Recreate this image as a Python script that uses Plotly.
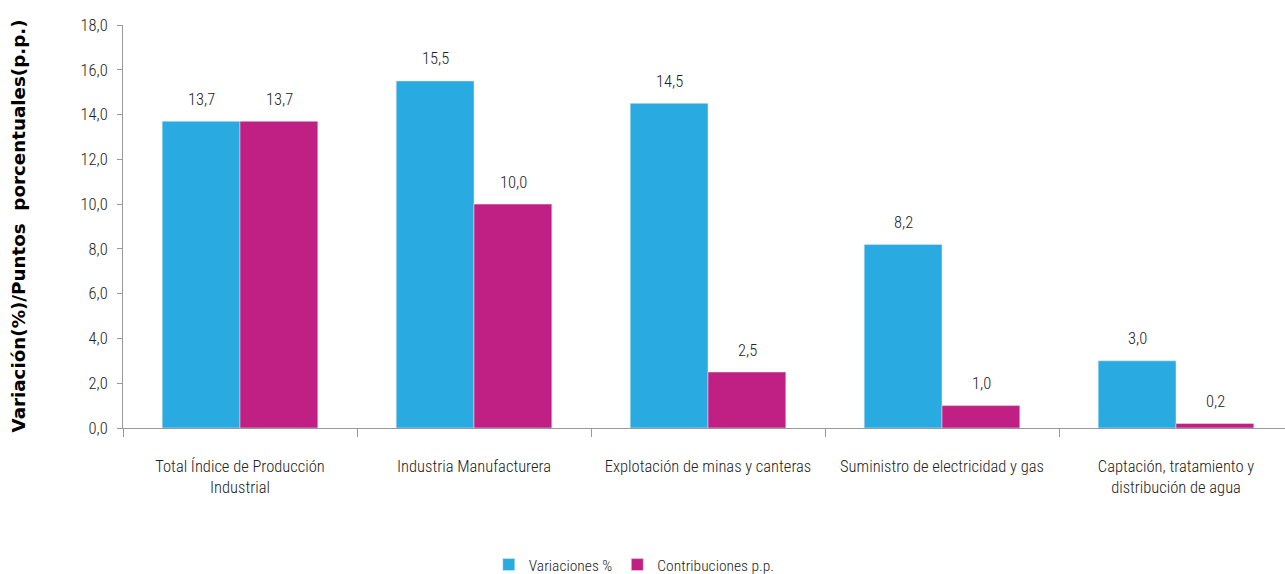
import plotly.graph_objects as go

categories = ["Total Índice de Producción<br>Industrial", "Industria Manufacturera",
              "Explotación de minas y canteras", "Suministro de electricidad y gas",
              "Captación, tratamiento y<br>distribución de agua"]
variaciones = [13.7, 15.5, 14.5, 8.2, 3.0]
contribuciones = [13.7, 10.0, 2.5, 1.0, 0.2]
y_ticks = [0, 2, 4, 6, 8, 10, 12, 14, 16, 18]
y_tick_labels = ["0,0", "2,0", "4,0", "6,0", "8,0", "10,0", "12,0", "14,0", "16,0", "18,0"]

def fmt(v):
    return f"{v:.1f}".replace(".", ",")

FONT = "Liberation Sans Narrow, Roboto Condensed, Open Sans, sans-serif"
TXT = "#222"

fig = go.Figure()
fig.add_trace(go.Bar(x=categories, y=variaciones, name="Variaciones %",
                     marker_color="#29ABE2"))
fig.add_trace(go.Bar(x=categories, y=contribuciones, name="Contribuciones p.p.",
                     marker_color="#C01F83"))

# value labels above each bar
for series, dx in ((variaciones, -39), (contribuciones, 39)):
    for c, v in zip(categories, series):
        fig.add_annotation(x=c, y=v, xref="x", yref="y", text=fmt(v), showarrow=False,
                           xshift=dx, yshift=22, yanchor="middle",
                           font=dict(family=FONT, size=16.5, color=TXT, weight=300))

fig.add_annotation(x=0, y=0.5, xref="paper", yref="paper", xshift=-105,
                   text="<b>Variación(%)/Puntos&nbsp; porcentuales(p.p.)</b>", textangle=-90,
                   showarrow=False, xanchor="center", yanchor="middle",
                   font=dict(family="DejaVu Sans, Verdana, sans-serif", size=18.3, color="#000"))

fig.update_layout(
    width=1293, height=574,
    margin=dict(l=123, r=0, t=25, b=146),
    barmode="group", bargap=0.335, bargroupgap=0,
    plot_bgcolor="white", paper_bgcolor="white",
    font=dict(family=FONT, size=16.5, color=TXT, weight=300),
    showlegend=True,
    legend=dict(orientation="h", x=0.437, xanchor="center", yref="container",
                y=9 / 574, yanchor="middle",
                font=dict(size=15.5), itemwidth=30, traceorder="normal"),
    xaxis=dict(showline=True, linecolor="#999", linewidth=1, ticks="outside",
               tickson="boundaries", ticklen=8, tickcolor="#999", automargin=False,
               tickfont=dict(size=16.5, color=TXT, weight=300), ticklabelstandoff=23),
    yaxis=dict(range=[0, 18], tickvals=y_ticks, ticktext=y_tick_labels,
               showgrid=False, showline=True, linecolor="#999", linewidth=1,
               ticks="outside", ticklen=5, tickcolor="#999", zeroline=False,
               automargin=False, ticklabelstandoff=6,
               tickfont=dict(size=16.5, color=TXT, weight=300)),
)

fig.write_html("out.html", config={"displayModeBar": False},
               post_script="document.body.style.margin='0px';"
                           "document.body.style.overflow='hidden';"
                           "document.documentElement.style.overflow='hidden';")
